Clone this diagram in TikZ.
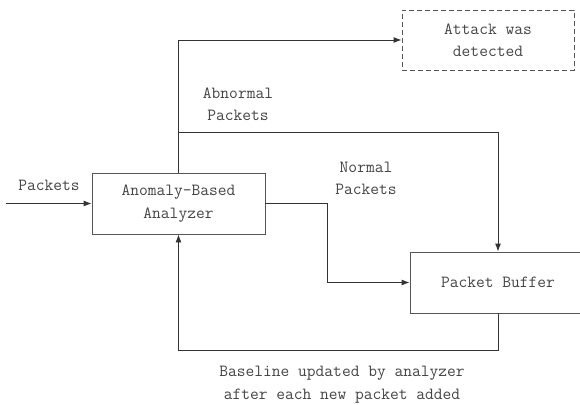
\documentclass[tikz,border=0pt]{standalone}
\usepackage{fontspec}
\usetikzlibrary{arrows.meta,calc}
\definecolor{linec}{HTML}{333333}
\definecolor{boxc}{HTML}{555555}
\definecolor{textc}{HTML}{444444}
\tikzset{
  lbl/.style={text=textc,font=\ttfamily\fontsize{17}{22.5}\selectfont,align=center,inner sep=0pt},
  procbox/.style={draw=boxc,line width=0.9pt,rectangle,inner sep=0pt,lbl},
  dashbox/.style={procbox,dashed,dash pattern=on 5pt off 3pt},
  arr/.style={draw=linec,line width=0.9pt,-{Latex[length=8pt,width=6pt]}},
  ln/.style={draw=linec,line width=0.9pt}
}
\begin{document}
\begin{tikzpicture}[x=1pt,y=-1pt]
\useasboundingbox (0,0) rectangle (580,404);
\node[procbox,minimum width=173pt,minimum height=61pt] (ana) at (178.5,203.5) {Anomaly-Based\\Analyzer};
\node[dashbox,minimum width=172pt,minimum height=60pt] (att) at (488,40) {Attack was\\detected};
\node[procbox,minimum width=176pt,minimum height=61pt] (buf) at (498,282.5) {Packet Buffer};
\coordinate (src) at (6,203.5);
\node[lbl] (lpk) at (49,185) {Packets};
\node[lbl] (labn) at (238,104) {Abnormal\\Packets};
\node[lbl] (lnor) at (366,178.5) {Normal\\Packets};
\node[lbl] (lbase) at (342,384.5) {Baseline updated by analyzer\\after each new packet added};
\draw[arr] (src) -- (ana.west);
\draw[arr] (ana.north) |- (att.west);
\coordinate (split) at (178.5,132);
\draw[arr] (split) -| (buf.north);
\draw[arr] (ana.east) -- ++(62,0) |- (buf.west);
\draw[arr] (buf.south) -- ++(0,36.5) -| (ana.south);
\end{tikzpicture}
\end{document}
